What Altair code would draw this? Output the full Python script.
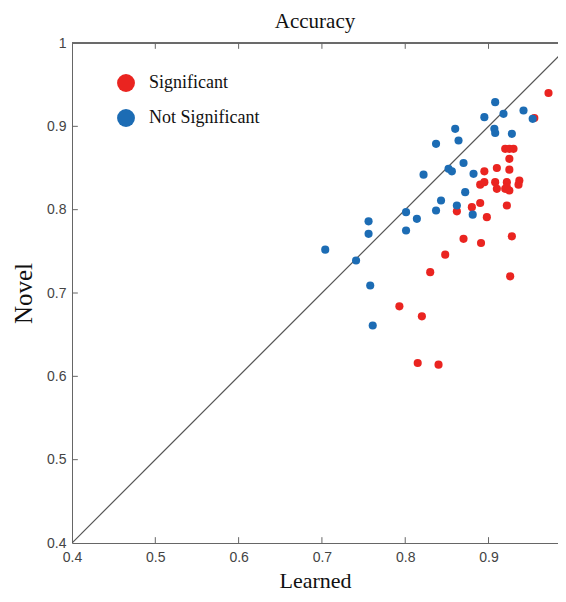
import altair as alt
import pandas as pd

# Data
blue_x = [0.908, 0.895, 0.918, 0.942, 0.953, 0.860, 0.907, 0.908, 0.928, 0.864,
          0.837, 0.870, 0.852, 0.856, 0.882, 0.822, 0.872, 0.843, 0.862, 0.801,
          0.837, 0.881, 0.814, 0.756, 0.756, 0.801, 0.704, 0.741, 0.758, 0.761]
blue_y = [0.929, 0.911, 0.915, 0.919, 0.909, 0.897, 0.897, 0.892, 0.891, 0.883,
          0.879, 0.856, 0.849, 0.846, 0.843, 0.842, 0.821, 0.811, 0.805, 0.797,
          0.799, 0.794, 0.789, 0.786, 0.771, 0.775, 0.752, 0.739, 0.709, 0.661]

red_x = [0.972, 0.955, 0.920, 0.925, 0.930, 0.925, 0.895, 0.910, 0.925, 0.890,
         0.895, 0.908, 0.910, 0.922, 0.922, 0.920, 0.937, 0.936, 0.925, 0.890,
         0.922, 0.880, 0.862, 0.898, 0.870, 0.891, 0.928, 0.848, 0.830, 0.926,
         0.793, 0.820, 0.815, 0.840]
red_y = [0.940, 0.910, 0.873, 0.873, 0.873, 0.861, 0.846, 0.850, 0.848, 0.830,
         0.833, 0.833, 0.825, 0.833, 0.827, 0.825, 0.835, 0.830, 0.823, 0.808,
         0.805, 0.803, 0.798, 0.791, 0.765, 0.760, 0.768, 0.746, 0.725, 0.720,
         0.684, 0.672, 0.616, 0.614]

groups = ["Significant", "Not Significant"]
colors = ["#ea2420", "#1c6cb4"]
tick_vals = [0.4, 0.5, 0.6, 0.7, 0.8, 0.9]
y_tick_vals = [0.4, 0.5, 0.6, 0.7, 0.8, 0.9, 1.0]
x_domain = [0.4, 0.9834]
y_domain = [0.4, 1.0]

pts = pd.DataFrame({
    "Learned": red_x + blue_x,
    "Novel": red_y + blue_y,
    "group": [groups[0]] * len(red_x) + [groups[1]] * len(blue_x),
})
diag = pd.DataFrame({"Learned": [0.4, 1.0], "Novel": [0.4, 1.0]})
inner = [0.5, 0.6, 0.7, 0.8, 0.9]
tick_len = 0.007
xt = pd.DataFrame({"v": inner, "lo": [0.4] * 5, "hi": [0.4 + tick_len] * 5,
                   "top": [1.0] * 5, "top2": [1.0 - tick_len] * 5})

xs = alt.Scale(domain=x_domain, nice=False, zero=False)
ys = alt.Scale(domain=y_domain, nice=False, zero=False)

x_axis = alt.Axis(values=tick_vals, format=".1f", ticks=False, grid=False,
                  labelFlush=False, labelOverlap=False,
                  domainColor="#666", labelFont="Liberation Sans", labelFontSize=14,
                  labelColor="#444", labelPadding=7, title="Learned",
                  titleFont="Liberation Serif", titleFontSize=22, titleFontWeight="normal",
                  titleColor="#111", titlePadding=6)
y_axis = alt.Axis(values=y_tick_vals, ticks=False, grid=False,
                  labelFlush=False, labelOverlap=False,
                  labelExpr="datum.value == 1 ? '1' : format(datum.value, '.1f')",
                  domainColor="#666", labelFont="Liberation Sans", labelFontSize=14,
                  labelColor="#444", labelPadding=6, title="Novel",
                  titleFont="Liberation Serif", titleFontSize=25, titleFontWeight="normal",
                  titleColor="#111", titlePadding=10)

line = alt.Chart(diag).mark_line(color="#555", strokeWidth=1.2, clip=True).encode(
    x=alt.X("Learned:Q", scale=xs, axis=x_axis),
    y=alt.Y("Novel:Q", scale=ys, axis=y_axis),
)

points = alt.Chart(pts).mark_circle(size=66, opacity=1).encode(
    x=alt.X("Learned:Q", scale=xs),
    y=alt.Y("Novel:Q", scale=ys),
    color=alt.Color("group:N", scale=alt.Scale(domain=groups, range=colors),
                    legend=alt.Legend(orient="none", legendX=45, legendY=31, title=None,
                                      symbolType="circle", symbolSize=320,
                                      symbolStrokeWidth=0, symbolOpacity=1,
                                      labelFont="Liberation Serif", labelFontSize=18,
                                      labelColor="#111", labelOffset=14,
                                      rowPadding=17, padding=0)),
)

bticks = alt.Chart(xt).mark_rule(color="#666").encode(
    x=alt.X("v:Q", scale=xs), y=alt.Y("lo:Q", scale=ys), y2="hi:Q")
tticks = alt.Chart(xt).mark_rule(color="#666").encode(
    x=alt.X("v:Q", scale=xs), y=alt.Y("top:Q", scale=ys), y2="top2:Q")
lticks = alt.Chart(xt).mark_rule(color="#666").encode(
    y=alt.Y("v:Q", scale=ys), x=alt.X("lo:Q", scale=xs), x2="hi:Q")
topline = alt.Chart(xt).mark_rule(color="#666").encode(
    y=alt.Y("top:Q", scale=ys), x=alt.datum(0.4, scale=xs), x2=alt.datum(x_domain[1]))

chart = alt.layer(line, bticks, tticks, lticks, topline, points).properties(
    width=486, height=500,
    title=alt.Title("Accuracy", font="Liberation Serif", fontSize=21,
                    fontWeight="normal", color="#111", offset=4),
    autosize=alt.AutoSizeParams(type="none"),
    padding={"left": 64, "top": 35, "right": 0, "bottom": 51},
).configure_view(stroke=None)

chart.save("out.html", embed_options={"renderer": "svg", "actions": False})
